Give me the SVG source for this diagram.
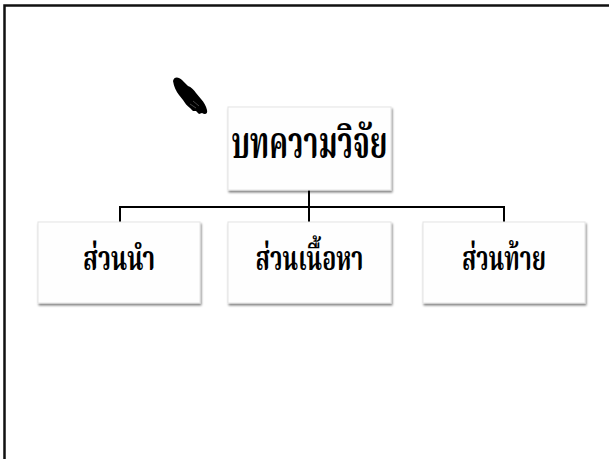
<svg xmlns="http://www.w3.org/2000/svg" width="609" height="459" viewBox="0 0 609 459">
<defs>
<filter id="sh" x="-10%" y="-10%" width="125%" height="130%">
<feGaussianBlur in="SourceAlpha" stdDeviation="1.2"/>
<feOffset dx="1" dy="1.5"/>
<feComponentTransfer><feFuncA type="linear" slope="0.5"/></feComponentTransfer>
<feMerge><feMergeNode/><feMergeNode in="SourceGraphic"/></feMerge>
</filter>
</defs>
<style>
.box{fill:#fefefe;stroke:#e4e4e4;stroke-width:1;filter:url(#sh)}
.t{font-family:"Liberation Serif","Noto Serif Thai","Noto Sans Thai",serif;font-weight:bold;fill:#000;text-anchor:middle}
.c{fill:none;stroke:#000;stroke-width:2}
</style>
<rect x="0" y="0" width="609" height="459" fill="#fff"/>
<path d="M4.5 459 V5.5 H609" fill="none" stroke="#111" stroke-width="2.5"/>
<g id="cursor">
<path d="M173 81 C174 76 179 77 182 80 L188 86 C191 87 194 90 196 93 L201 99 C204 102 206 106 207 110 C208 114 205 115 202 113 L199 114 L196 111 L193 111 L190 108 C187 106 185 103 183 100 L179 95 C176 91 174 87 173 81 Z" fill="#000"/>
<path d="M190 104 L196 108 M193 101 L199 106" stroke="#555" stroke-width="0.8"/>
</g>
<g id="connectors">
<path class="c" d="M309 190 V222"/>
<path class="c" d="M120 222 V207 H504 V222"/>
</g>
<g id="n0">
<rect class="box" x="228" y="107" width="163" height="83"/>
<text class="t" x="309.5" y="158" font-size="44" textLength="156" lengthAdjust="spacingAndGlyphs">บทความวิจัย</text>
</g>
<g id="n1">
<rect class="box" x="38" y="222" width="162" height="81"/>
<text class="t" x="119" y="270" font-size="33" textLength="72" lengthAdjust="spacingAndGlyphs">ส่วนนำ</text>
</g>
<g id="n2">
<rect class="box" x="228" y="222" width="163" height="81"/>
<text class="t" x="309.5" y="270" font-size="33" textLength="108" lengthAdjust="spacingAndGlyphs">ส่วนเนื้อหา</text>
</g>
<g id="n3">
<rect class="box" x="423" y="222" width="162" height="81"/>
<text class="t" x="504" y="270" font-size="33" textLength="84" lengthAdjust="spacingAndGlyphs">ส่วนท้าย</text>
</g>
</svg>
